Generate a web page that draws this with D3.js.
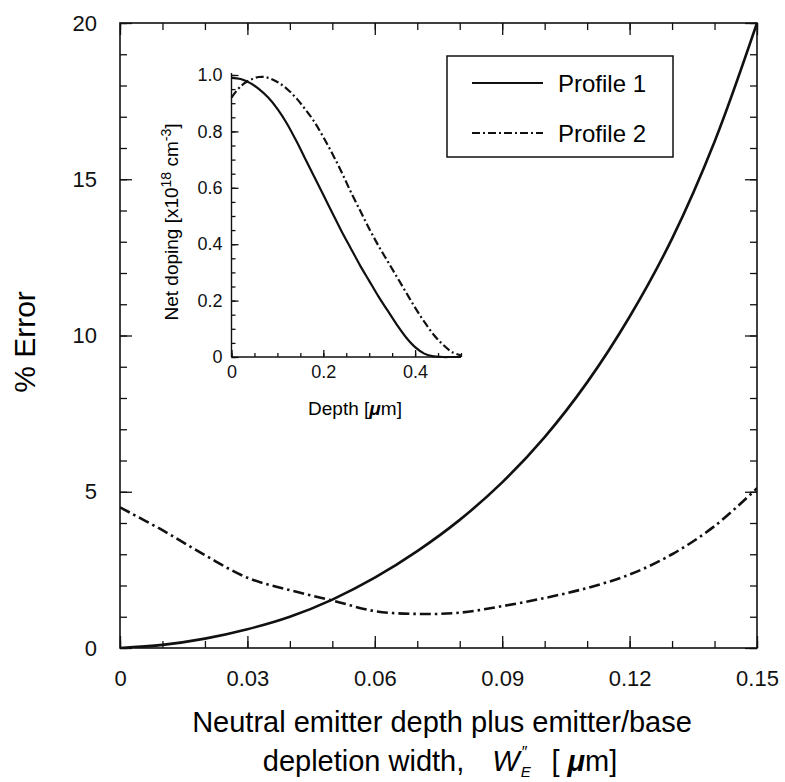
<!DOCTYPE html>
<html>
<head>
<meta charset="utf-8">
<script src="https://cdn.jsdelivr.net/npm/d3@7"></script>
<style>
  body { margin: 0; background: #fff; }
  svg { font-family: "Liberation Sans", Arial, sans-serif; }
  .frame { fill: none; stroke: #111; stroke-width: 1.6; }
  .tick line { stroke: #111; stroke-width: 1.3; }
  .domain { display: none; }
</style>
</head>
<body>
<svg id="chart"></svg>
<script>
const width = 785;
const height = 782;

// main plot: % error vs neutral emitter depth (um)
const errDepth = [0, 0.01, 0.02, 0.03, 0.04, 0.05, 0.06, 0.07, 0.08, 0.09, 0.10, 0.11, 0.12, 0.13, 0.14, 0.15];
const errProfile1 = [0, 0.1, 0.3, 0.6, 1.0, 1.55, 2.25, 3.1, 4.1, 5.3, 6.75, 8.5, 10.6, 13.1, 16.2, 20.0];
const errProfile2 = [4.5, 3.77, 2.97, 2.25, 1.85, 1.52, 1.18, 1.09, 1.13, 1.34, 1.6, 1.92, 2.35, 3.0, 3.9, 5.11];
const xTicks = [0, 0.03, 0.06, 0.09, 0.12, 0.15];
const yTicks = [0, 5, 10, 15, 20];

// inset: net doping profiles vs depth (um)
const insetDepth = [0, 0.02, 0.04, 0.06, 0.08, 0.10, 0.12, 0.14, 0.16, 0.18, 0.20, 0.22, 0.24,
  0.26, 0.28, 0.30, 0.32, 0.34, 0.36, 0.38, 0.40, 0.42, 0.44, 0.46, 0.48, 0.50];
const dopingProfile1 = [0.99, 0.986, 0.972, 0.95, 0.92, 0.88, 0.83, 0.77, 0.705, 0.64, 0.575, 0.51, 0.445,
  0.385, 0.325, 0.27, 0.215, 0.165, 0.115, 0.07, 0.035, 0.012, 0.002, 0, 0, 0];
const dopingProfile2 = [0.92, 0.96, 0.982, 0.993, 0.99, 0.975, 0.952, 0.92, 0.88, 0.835, 0.78, 0.72, 0.655,
  0.585, 0.52, 0.455, 0.395, 0.34, 0.285, 0.23, 0.175, 0.125, 0.08, 0.045, 0.018, 0.005];
const insetXTicks = [0, 0.2, 0.4];
const insetYTicks = [0, 0.2, 0.4, 0.6, 0.8, 1.0];

const legendItems = ["Profile 1", "Profile 2"];
const dashDot = "11,4,2.5,4";

const svg = d3.select("#chart")
    .attr("width", width)
    .attr("height", height);

const m = { left: 120, right: 757, top: 23, bottom: 648 };

const x = d3.scaleLinear().domain([0, 0.15]).range([m.left, m.right]);
const y = d3.scaleLinear().domain([0, 20]).range([m.bottom, m.top]);

// minor ticks (inward) on all four sides
const xMinor = d3.range(0, 0.1501, 0.01);
const yMinor = d3.range(0, 20.01, 1);

function tickAxis(axis, tx, ty) {
  svg.append("g")
    .attr("transform", `translate(${tx},${ty})`)
    .call(axis);
}

tickAxis(d3.axisBottom(x).tickValues(xMinor).tickSize(-7).tickFormat(""), 0, m.bottom);
tickAxis(d3.axisTop(x).tickValues(xMinor).tickSize(-7).tickFormat(""), 0, m.top);
tickAxis(d3.axisLeft(y).tickValues(yMinor).tickSize(-7).tickFormat(""), m.left, 0);
tickAxis(d3.axisRight(y).tickValues(yMinor).tickSize(-7).tickFormat(""), m.right, 0);

// major ticks + labels
svg.append("g")
  .attr("transform", `translate(0,${m.bottom})`)
  .call(d3.axisBottom(x).tickValues(xTicks).tickSize(-12).tickPadding(22)
    .tickFormat(d => d === 0 ? "0" : d.toFixed(2)))
  .call(g => g.selectAll("text").attr("font-size", 22).attr("fill", "#111").attr("font-family", null));
tickAxis(d3.axisTop(x).tickValues(xTicks).tickSize(-12).tickFormat(""), 0, m.top);
svg.append("g")
  .attr("transform", `translate(${m.left},0)`)
  .call(d3.axisLeft(y).tickValues(yTicks).tickSize(-12).tickPadding(23))
  .call(g => g.selectAll("text").attr("font-size", 22).attr("fill", "#111").attr("font-family", null));
tickAxis(d3.axisRight(y).tickValues(yTicks).tickSize(-12).tickFormat(""), m.right, 0);

svg.append("rect")
  .attr("class", "frame")
  .attr("x", m.left).attr("y", m.top)
  .attr("width", m.right - m.left).attr("height", m.bottom - m.top);

// curves
svg.append("clipPath").attr("id", "plotclip")
  .append("rect").attr("x", m.left).attr("y", m.top - 2)
  .attr("width", m.right - m.left).attr("height", m.bottom - m.top + 2);

const mainLine = d3.line()
  .x(d => x(d[0]))
  .y(d => y(d[1]))
  .curve(d3.curveCatmullRom.alpha(0.5));

svg.append("path")
  .datum(errDepth.map((d, i) => [d, errProfile1[i]]))
  .attr("d", mainLine)
  .attr("clip-path", "url(#plotclip)")
  .attr("fill", "none").attr("stroke", "#111").attr("stroke-width", 2.6);

svg.append("path")
  .datum(errDepth.map((d, i) => [d, errProfile2[i]]))
  .attr("d", mainLine)
  .attr("clip-path", "url(#plotclip)")
  .attr("fill", "none").attr("stroke", "#111").attr("stroke-width", 2.6)
  .attr("stroke-dasharray", dashDot);

// axis titles
svg.append("text")
  .attr("transform", "translate(35,342) rotate(-90)")
  .attr("text-anchor", "middle")
  .attr("font-size", 30)
  .text("% Error");

svg.append("text")
  .attr("x", 442).attr("y", 732)
  .attr("text-anchor", "middle")
  .attr("font-size", 29)
  .text("Neutral emitter depth plus emitter/base");

const xl2 = svg.append("text")
  .attr("x", 440).attr("y", 771)
  .attr("text-anchor", "middle")
  .attr("font-size", 29);
xl2.append("tspan").text("depletion width,");
xl2.append("tspan").attr("dx", 28).attr("font-style", "italic").text("W");
xl2.append("tspan").attr("dx", 1).attr("dy", 6).attr("font-size", 15).attr("font-style", "italic").text("E");
xl2.append("tspan").attr("dx", -9).attr("dy", -19).attr("font-size", 16).text("\u2033");
xl2.append("tspan").attr("dx", 24).attr("dy", 13).text("[ ");
xl2.append("tspan").attr("font-style", "italic").attr("font-weight", "bold").text("\u03bc");
xl2.append("tspan").text("m]");

// legend
const lg = svg.append("g");
lg.append("rect")
  .attr("x", 447).attr("y", 56).attr("width", 226).attr("height", 101)
  .attr("fill", "#fff").attr("stroke", "#111").attr("stroke-width", 1.5);
legendItems.forEach((name, i) => {
  const ly = 83 + i * 50;
  lg.append("line")
    .attr("x1", 472).attr("x2", 543).attr("y1", ly).attr("y2", ly)
    .attr("stroke", "#111").attr("stroke-width", 1.8)
    .attr("stroke-dasharray", i === 1 ? "8,3,2,3" : null);
  lg.append("text")
    .attr("x", 558).attr("y", ly + 8.5)
    .attr("font-size", 24)
    .text(name);
});

// inset
const ix = d3.scaleLinear().domain([0, 0.5]).range([231.5, 461]);
const iy = d3.scaleLinear().domain([0, 1]).range([357, 75]);
const inset = svg.append("g");

inset.append("g")
  .attr("transform", "translate(0,357)")
  .call(d3.axisBottom(ix).tickValues(d3.range(0, 0.501, 0.05)).tickSize(-4).tickFormat(""));
inset.append("g")
  .attr("transform", "translate(231.5,0)")
  .call(d3.axisLeft(iy).tickValues(d3.range(0, 1.001, 0.05)).tickSize(-4).tickFormat(""));
inset.append("g")
  .attr("transform", "translate(0,357)")
  .call(d3.axisBottom(ix).tickValues(insetXTicks).tickSize(-7).tickPadding(8)
    .tickFormat(d => d === 0 ? "0" : d.toFixed(1)))
  .call(g => g.selectAll("text").attr("font-size", 18).attr("fill", "#111").attr("font-family", null));
inset.append("g")
  .attr("transform", "translate(231.5,0)")
  .call(d3.axisLeft(iy).tickValues(insetYTicks).tickSize(-7).tickPadding(9)
    .tickFormat(d => d === 0 ? "0" : d.toFixed(1)))
  .call(g => g.selectAll("text").attr("font-size", 18).attr("fill", "#111").attr("font-family", null));

inset.append("line")
  .attr("x1", 231.5).attr("x2", 231.5).attr("y1", 73).attr("y2", 357)
  .attr("stroke", "#111").attr("stroke-width", 1.4);
inset.append("line")
  .attr("x1", 231.5).attr("x2", 461).attr("y1", 357).attr("y2", 357)
  .attr("stroke", "#111").attr("stroke-width", 1.4);

const insetLine = d3.line()
  .x(d => ix(d[0]))
  .y(d => iy(d[1]))
  .curve(d3.curveCatmullRom.alpha(0.5));

inset.append("path")
  .datum(insetDepth.map((d, i) => [d, dopingProfile1[i]]))
  .attr("d", insetLine)
  .attr("fill", "none").attr("stroke", "#111").attr("stroke-width", 2.2);
inset.append("path")
  .datum(insetDepth.map((d, i) => [d, dopingProfile2[i]]))
  .attr("d", insetLine)
  .attr("fill", "none").attr("stroke", "#111").attr("stroke-width", 2.2)
  .attr("stroke-dasharray", "8,3,2,3");

const ixl = inset.append("text")
  .attr("x", 355).attr("y", 415)
  .attr("text-anchor", "middle")
  .attr("font-size", 19);
ixl.append("tspan").text("Depth [");
ixl.append("tspan").attr("font-style", "italic").attr("font-weight", "bold").text("\u03bc");
ixl.append("tspan").text("m]");

const iyl = inset.append("text")
  .attr("transform", "translate(178,222) rotate(-90)")
  .attr("text-anchor", "middle")
  .attr("font-size", 19);
iyl.append("tspan").text("Net doping [x10");
iyl.append("tspan").attr("dy", -7).attr("font-size", 14).text("18");
iyl.append("tspan").attr("dy", 7).text(" cm");
iyl.append("tspan").attr("dy", -7).attr("font-size", 14).text("-3");
iyl.append("tspan").attr("dy", 7).text("]");
</script>
</body>
</html>
